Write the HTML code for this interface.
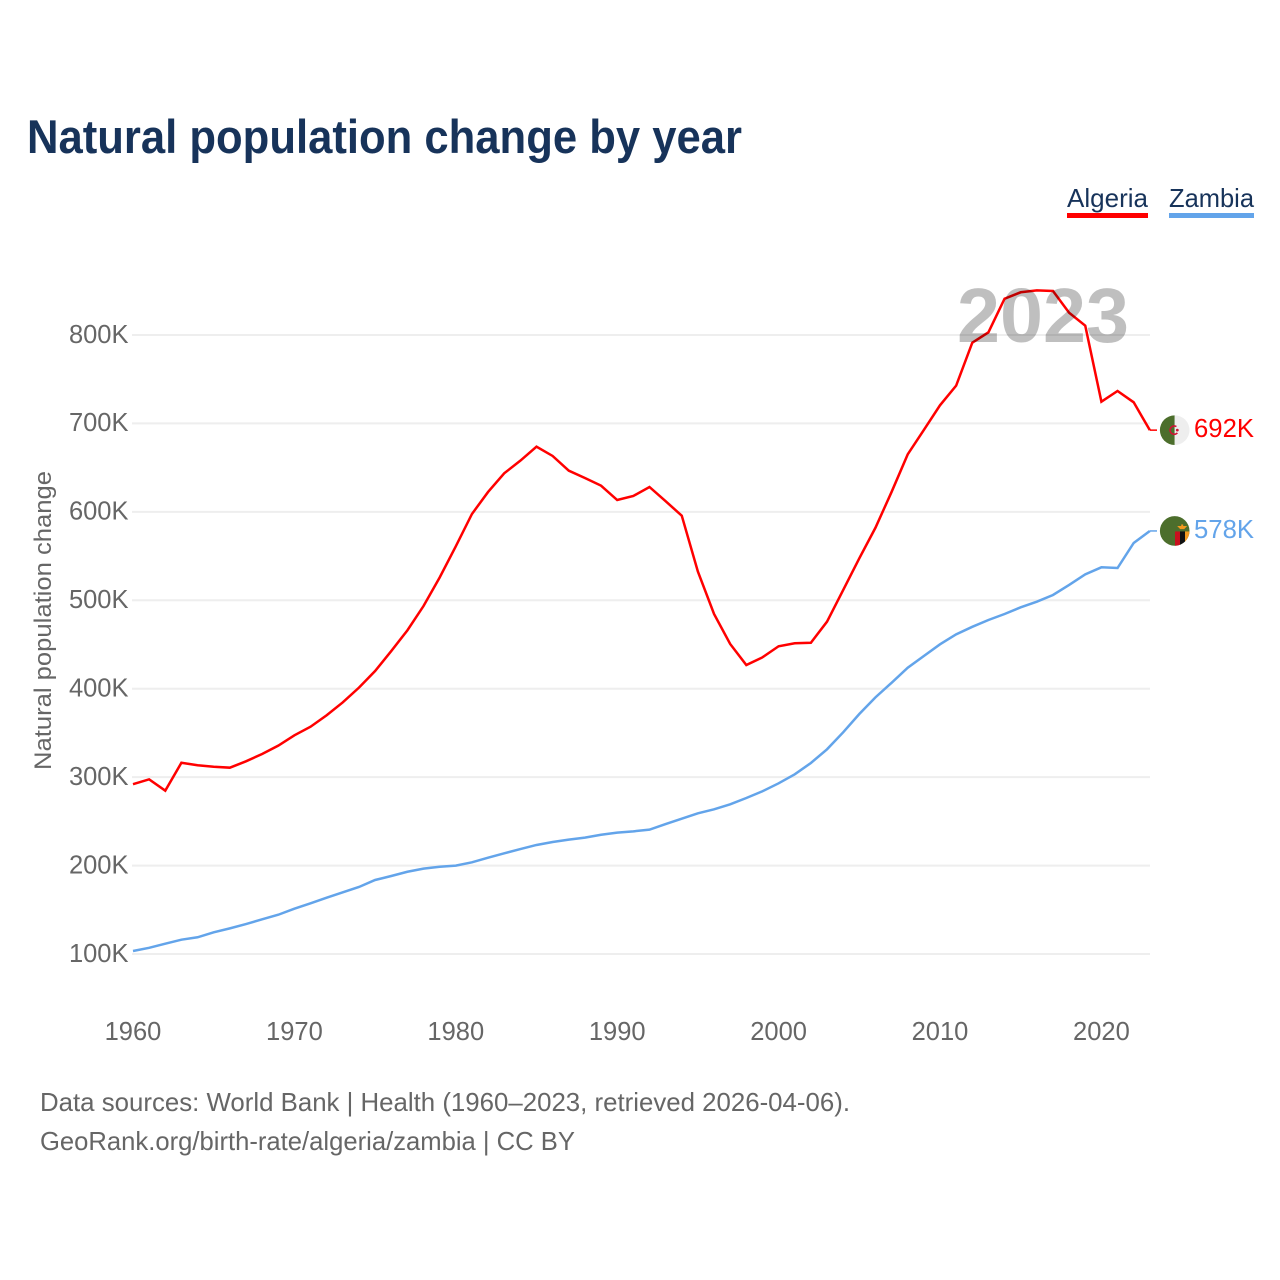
<!DOCTYPE html>
<html lang="en">
<head>
<meta charset="utf-8">
<title>Natural population change by year</title>
<style>
  html, body { margin: 0; padding: 0; background: #fff; }
  svg { display: block; font-family: "Liberation Sans", sans-serif; }
</style>
</head>
<body>
<svg id="chart" xmlns="http://www.w3.org/2000/svg" width="1280" height="1280" viewBox="0 0 1280 1280">
  <rect width="1280" height="1280" fill="#fff"/>
  <text x="27" y="153" font-size="47" font-weight="bold" fill="#17335a" textLength="715" lengthAdjust="spacingAndGlyphs">Natural population change by year</text>

  <g font-size="26" fill="#17335a">
    <g>
      <text x="1067" y="207" textLength="81" lengthAdjust="spacingAndGlyphs">Algeria</text>
      <rect x="1067" y="213" width="81" height="5" fill="#ff0000"/>
    </g>
    <g>
      <text x="1169" y="207" textLength="85" lengthAdjust="spacingAndGlyphs">Zambia</text>
      <rect x="1169" y="213" width="85" height="5" fill="#63a4ea"/>
    </g>
  </g>

  <g id="grid"></g>
  <g id="yLabels" font-size="25.5" fill="#666" text-anchor="end"></g>
  <g id="xLabels" font-size="25.5" fill="#666" text-anchor="middle"></g>
  <text transform="translate(51 770) rotate(-90)" font-size="24" fill="#666" textLength="299" lengthAdjust="spacingAndGlyphs">Natural population change</text>

  <g id="series"></g>

  <text x="957" y="342" font-size="77" font-weight="bold" fill="#000" fill-opacity="0.25" textLength="172" lengthAdjust="spacingAndGlyphs">2023</text>

  <defs>
    <clipPath id="flagClip"><circle cx="0" cy="0" r="14.8"/></clipPath>
  </defs>

  <g id="flagAlgeria" clip-path="url(#flagClip)">
    <rect x="-16" y="-16" width="16" height="32" fill="#4c6e2c"/>
    <rect x="0" y="-16" width="16" height="32" fill="#eeeeee"/>
    <circle cx="-0.5" cy="0" r="4.2" fill="none" stroke="#d21034" stroke-width="1.6" stroke-dasharray="19 8" stroke-dashoffset="-3"/>
    <circle cx="2.6" cy="0" r="1.4" fill="#d21034"/>
  </g>
  <g id="flagZambia" clip-path="url(#flagClip)">
    <rect x="-16" y="-16" width="32" height="32" fill="#4c6e2c"/>
    <rect x="0.3" y="0.5" width="5" height="16" fill="#c8101e"/>
    <rect x="5.3" y="0.5" width="5" height="16" fill="#111"/>
    <rect x="10.3" y="0.5" width="5" height="16" fill="#f3991f"/>
    <path d="M2.5 -5 L12.5 -5 L9.5 -1.8 L5.5 -1.8 Z" fill="#f3991f"/>
    <rect x="6.5" y="-6.5" width="2" height="2" fill="#f3991f"/>
  </g>

  <text id="labelAlgeria" x="1194" font-size="26" fill="#ff0000" textLength="60" lengthAdjust="spacingAndGlyphs"></text>
  <text id="labelZambia" x="1194" font-size="26" fill="#63a4ea" textLength="60" lengthAdjust="spacingAndGlyphs"></text>

  <text x="40" y="1111" font-size="26" fill="#666" textLength="810" lengthAdjust="spacingAndGlyphs">Data sources: World Bank | Health (1960–2023, retrieved 2026-04-06).</text>
  <text x="40" y="1150" font-size="26" fill="#666" textLength="535" lengthAdjust="spacingAndGlyphs">GeoRank.org/birth-rate/algeria/zambia | CC BY</text>
</svg>

<script>
const firstYear = 1960;
const algeriaValues = [292, 297.5, 284.7, 316.3, 313.4, 311.8, 310.7, 317.9, 326.2, 335.6,
  347.3, 357, 370, 384.6, 401.2, 420, 442.6, 466, 493.5, 525.8,
  561, 597.6, 622.5, 643.6, 657.9, 673.7, 663.2, 646.6, 638.3, 629.6,
  613.4, 618, 628.1, 612, 595.7, 532.4, 484.5, 450.6, 426.8, 435.5,
  448, 451.4, 452, 475.8, 511.6, 547.5, 582, 622.5, 665, 692.6,
  720.5, 742.7, 791.3, 803, 841, 848.3, 850.5, 849.8, 825.2, 810.5,
  724.6, 736.7, 723.9, 692.4];
const zambiaValues = [103.4, 107, 111.7, 116.2, 118.9, 124.5, 129, 133.9, 139.2, 144.4,
  151.2, 157.3, 163.7, 169.8, 175.8, 183.7, 188.2, 193, 196.5, 198.7,
  199.9, 203.7, 208.9, 213.9, 218.7, 223.3, 226.7, 229.3, 231.6, 234.9,
  237.2, 238.7, 240.6, 247, 253, 259.1, 263.6, 269.3, 276.4, 284,
  293, 303.2, 316, 331.5, 350.7, 371.4, 390.2, 406.7, 423.7, 437,
  450.2, 461.5, 470, 477.7, 484.5, 492, 498.4, 506, 517.3, 529.3,
  537.3, 536.5, 564.8, 578.4];
const yTicks = [100, 200, 300, 400, 500, 600, 700, 800];
const xTicks = [1960, 1970, 1980, 1990, 2000, 2010, 2020];

const SVG_NS = 'http://www.w3.org/2000/svg';
const xScale = function (year) { return 133 + (year - 1960) * 16.14; };
const yScale = function (value) { return 954 - (value - 100) * 0.8843; };

const grid = document.getElementById('grid');
const yLabels = document.getElementById('yLabels');
const xLabels = document.getElementById('xLabels');
const series = document.getElementById('series');

yTicks.forEach(function (tick) {
  const line = document.createElementNS(SVG_NS, 'line');
  
  
  line.setAttribute('x1', 132);
  line.setAttribute('x2', 1150);
  line.setAttribute('y1', yScale(tick));
  line.setAttribute('y2', yScale(tick));
  line.setAttribute('stroke', '#eeeeee');
  line.setAttribute('stroke-width', 2);
  grid.appendChild(line);

  const label = document.createElementNS(SVG_NS, 'text');
  
  
  label.setAttribute('x', 128.5);
  label.setAttribute('y', yScale(tick) + 7.8);
  label.textContent = tick + 'K';
  yLabels.appendChild(label);
});

xTicks.forEach(function (tick) {
  const label = document.createElementNS(SVG_NS, 'text');
  
  
  label.setAttribute('x', xScale(tick));
  label.setAttribute('y', 1040);
  label.textContent = tick;
  xLabels.appendChild(label);
});

function drawSeries(values, color, lineName, connectorName) {
  const points = values.map(function (value, i) {
    return xScale(firstYear + i).toFixed(2) + ',' + yScale(value).toFixed(2);
  }).join(' ');
  const line = document.createElementNS(SVG_NS, 'polyline');
  
  
  line.setAttribute('points', points);
  line.setAttribute('fill', 'none');
  line.setAttribute('stroke', color);
  line.setAttribute('stroke-width', 2.5);
  line.setAttribute('stroke-linejoin', 'miter');
  series.appendChild(line);

  const lastValue = values[values.length - 1];
  const connector = document.createElementNS(SVG_NS, 'line');
  
  
  connector.setAttribute('x1', xScale(firstYear + values.length - 1));
  connector.setAttribute('x2', 1157);
  connector.setAttribute('y1', yScale(lastValue));
  connector.setAttribute('y2', yScale(lastValue));
  connector.setAttribute('stroke', color);
  connector.setAttribute('stroke-width', 1.5);
  series.appendChild(connector);
}

drawSeries(algeriaValues, '#ff0000', 'line-algeria', 'connector-algeria');
drawSeries(zambiaValues, '#63a4ea', 'line-zambia', 'connector-zambia');

function placeEnd(values, flagId, labelId) {
  const lastValue = values[values.length - 1];
  const y = yScale(lastValue);
  document.getElementById(flagId).setAttribute('transform', 'translate(1174.7 ' + y + ')');
  const label = document.getElementById(labelId);
  label.setAttribute('y', y + 7);
  label.textContent = Math.round(lastValue) + 'K';
}

placeEnd(algeriaValues, 'flagAlgeria', 'labelAlgeria');
placeEnd(zambiaValues, 'flagZambia', 'labelZambia');
</script>
</body>
</html>
